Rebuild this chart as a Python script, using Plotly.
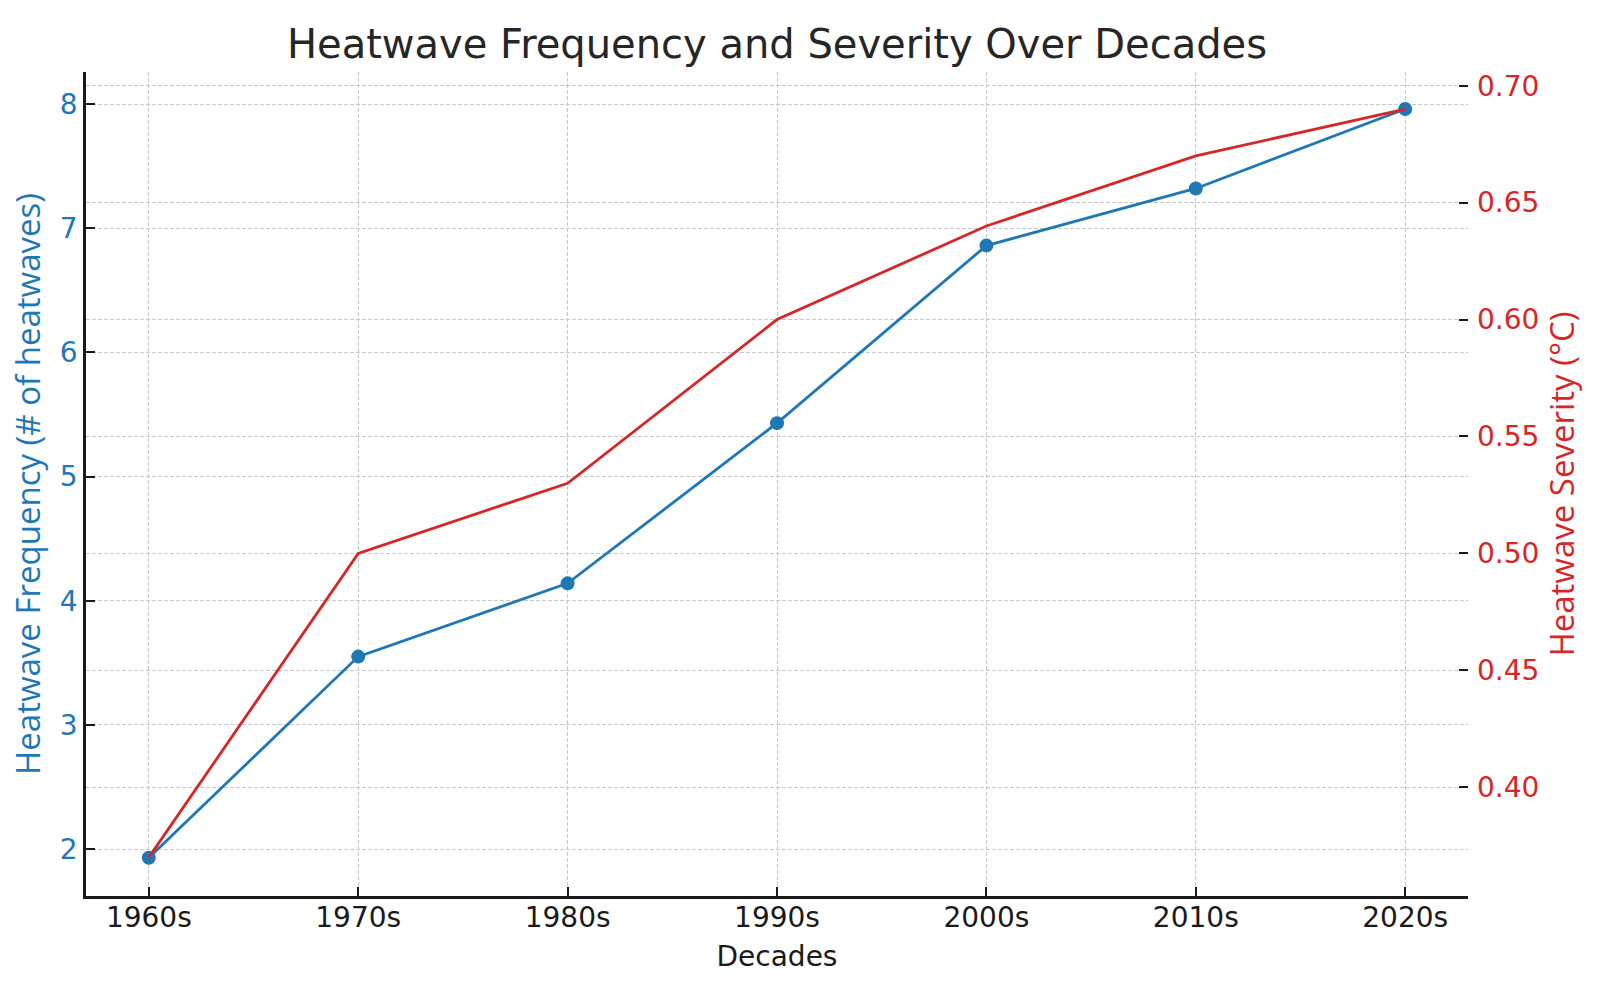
import plotly.graph_objects as go

decades = ["1960s", "1970s", "1980s", "1990s", "2000s", "2010s", "2020s"]
frequency = [1.93, 3.55, 4.14, 5.43, 6.86, 7.32, 7.96]
severity = [0.37, 0.50, 0.53, 0.60, 0.64, 0.67, 0.69]

BLUE = "#1f77b4"
RED = "#d62728"
GRID = "#c9c9c9"
INK = "#1a1a1a"

fig = go.Figure()
fig.add_trace(go.Scatter(
    x=decades, y=severity, mode="lines", name="Heatwave Severity",
    line=dict(color=RED, width=2.8), yaxis="y2", showlegend=False))
fig.add_trace(go.Scatter(
    x=decades, y=frequency, mode="lines+markers", name="Heatwave Frequency",
    line=dict(color=BLUE, width=2.8), marker=dict(size=14, color=BLUE),
    yaxis="y", showlegend=False))

fig.update_layout(
    width=1600, height=1000,
    paper_bgcolor="white", plot_bgcolor="white",
    margin=dict(l=86, r=132, t=72, b=104, autoexpand=False),
    font=dict(family="DejaVu Sans", size=28, color=INK),
    title=dict(text="Heatwave Frequency and Severity Over Decades",
               x=0.5, xref="paper", xanchor="center",
               y=0.956, yref="container", yanchor="middle",
               font=dict(family="DejaVu Sans", size=40, color="#262626")),
    xaxis=dict(
        type="category", range=[-0.3, 6.3],
        showline=True, linecolor=INK, linewidth=2.5,
        ticks="inside", ticklen=9, tickwidth=1.5, tickcolor=INK,
        ticklabelstandoff=-5,
        showgrid=True, gridcolor=GRID, gridwidth=1.2, griddash="4px,2px",
        tickfont=dict(family="DejaVu Sans", size=28, color=INK),
        title=dict(text="Decades", standoff=14,
                   font=dict(family="DejaVu Sans", size=28, color=INK)),
        zeroline=False),
    yaxis=dict(
        range=[1.622, 8.258], tickvals=[2, 3, 4, 5, 6, 7, 8],
        showline=True, linecolor=INK, linewidth=2.5,
        ticks="inside", ticklen=9, tickwidth=1.5, tickcolor=INK,
        showgrid=True, gridcolor=GRID, gridwidth=1.2, griddash="4px,2px",
        tickfont=dict(family="DejaVu Sans", size=28, color=BLUE),
        title=dict(text="Heatwave Frequency (# of heatwaves)", standoff=10,
                   font=dict(family="Open Sans", size=33, color=BLUE)),
        zeroline=False),
    yaxis2=dict(
        overlaying="y", side="right",
        range=[0.3535, 0.70586],
        tickvals=[0.40, 0.45, 0.50, 0.55, 0.60, 0.65, 0.70],
        tickformat=".2f",
        showline=False,
        ticks="inside", ticklen=9, tickwidth=1.5, tickcolor=INK,
        ticklabelstandoff=8,
        showgrid=True, gridcolor=GRID, gridwidth=1.2, griddash="4px,2px",
        tickfont=dict(family="DejaVu Sans", size=28, color=RED),
        title=dict(text="Heatwave Severity (°C)", standoff=8,
                   font=dict(family="Open Sans", size=33, color=RED)),
        zeroline=False),
)

fig.write_html("out.html",
               config={"displayModeBar": False},
               post_script="document.body.style.margin='0';document.body.style.padding='0';")
